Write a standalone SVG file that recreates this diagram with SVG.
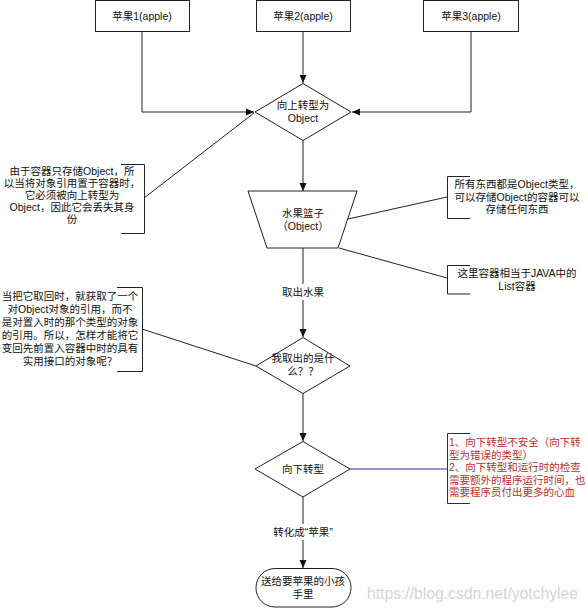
<svg xmlns="http://www.w3.org/2000/svg" width="588" height="611" viewBox="0 0 588 611">
<style>
text{font-family:"Liberation Sans","Noto Sans CJK SC",sans-serif;font-size:10.5px;fill:#111;dominant-baseline:central}
.c{text-anchor:middle}
.box{fill:#fff;stroke:#222;stroke-width:1}
.ln{fill:none;stroke:#222;stroke-width:1}
.br{fill:none;stroke:#222;stroke-width:1}
.red{fill:#c0302c}
.wm{font-family:"Liberation Sans",Arial,sans-serif;font-size:15.7px;fill:#d4d4d4}
</style>
<defs>
<marker id="arr" markerWidth="8" markerHeight="8" refX="8" refY="4" orient="auto" markerUnits="userSpaceOnUse">
<path d="M0,0.5 L8,4 L0,7.5 z" fill="#111"/>
</marker>
</defs>
<rect width="588" height="611" fill="#fff"/>

<g id="connectors">
<path class="ln" d="M142,31 V112 H254" marker-end="url(#arr)"/>
<path class="ln" d="M303,31 V83" marker-end="url(#arr)"/>
<path class="ln" d="M471,31 V112 H352" marker-end="url(#arr)"/>
<path class="ln" d="M303,140 V191" marker-end="url(#arr)"/>
<path class="ln" d="M303,248 V337" marker-end="url(#arr)"/>
<path class="ln" d="M303,393 V441" marker-end="url(#arr)"/>
<path class="ln" d="M303,497 V568" marker-end="url(#arr)"/>
<path class="ln" d="M144,198 L254,113"/>
<path class="ln" d="M447,197 L348,219"/>
<path class="ln" d="M447,278 L339,248"/>
<path class="ln" d="M142,329 L256,366"/>
<path fill="none" stroke="#7070cc" stroke-width="1.3" d="M350,469 H447"/>
<rect x="279" y="284" width="48" height="16" fill="#fff"/>
<text class="c" x="303" y="292">取出水果</text>
<rect x="264" y="524" width="78" height="16" fill="#fff"/>
<text class="c" x="303" y="532">转化成“苹果”</text>
</g>

<g id="apple1">
<rect class="box" x="95.5" y="0.5" width="94" height="31"/>
<text class="c" x="142" y="15.5">苹果1(apple)</text>
</g>
<g id="apple2">
<rect class="box" x="256.5" y="0.5" width="94" height="31"/>
<text class="c" x="303" y="15.5">苹果2(apple)</text>
</g>
<g id="apple3">
<rect class="box" x="423.5" y="0.5" width="95" height="31"/>
<text class="c" x="471" y="15.5">苹果3(apple)</text>
</g>

<g id="upcast">
<path class="box" d="M303,83.5 L351,112 L303,140.5 L255,112 Z"/>
<text class="c" x="303" y="105">向上转型为</text>
<text class="c" x="303" y="118">Object</text>
</g>

<g id="basket">
<path class="box" d="M248,191 H357 L338,248 H267 Z"/>
<text class="c" x="303" y="213">水果篮子</text>
<text class="c" x="303" y="226">（Object）</text>
</g>

<g id="what">
<path class="box" d="M303,337.5 L350,366 L303,393.5 L256,366 Z"/>
<text class="c" x="303" y="358">我取出的是什</text>
<text class="c" x="303" y="371">么？？</text>
</g>

<g id="downcast">
<path class="box" d="M303,441.5 L350,469 L303,497 L255,469 Z"/>
<text class="c" x="303" y="469">向下转型</text>
</g>

<g id="child">
<rect class="box" x="256" y="568.5" width="95" height="38.5" rx="19" ry="19"/>
<text class="c" x="303" y="581">送给要苹果的小孩</text>
<text class="c" x="303" y="594">手里</text>
</g>

<g id="note-upcast">
<path class="br" d="M121,164.5 H144.5 V233.5 H121"/>
<text class="c" x="72" y="171">由于容器只存储Object，所</text>
<text class="c" x="72" y="183">以当将对象引用置于容器时，</text>
<text class="c" x="72" y="195">它必须被向上转型为</text>
<text class="c" x="72" y="207">Object，因此它会丢失其身</text>
<text class="c" x="72" y="219">份</text>
</g>

<g id="note-object">
<path class="br" d="M470,176.5 H447.5 V218.5 H470"/>
<text class="c" x="517" y="184">所有东西都是Object类型，</text>
<text class="c" x="517" y="196.5">可以存储Object的容器可以</text>
<text class="c" x="517" y="209">存储任何东西</text>
</g>

<g id="note-list">
<path class="br" d="M470,265.5 H447.5 V294 H470"/>
<text class="c" x="517" y="273">这里容器相当于JAVA中的</text>
<text class="c" x="517" y="286">List容器</text>
</g>

<g id="note-getback">
<path class="br" d="M117,287.5 H142.5 V371.5 H117"/>
<text class="c" x="70" y="296">当把它取回时，就获取了一个</text>
<text class="c" x="70" y="309">对Object对象的引用，而不</text>
<text class="c" x="70" y="322">是对置入时的那个类型的对象</text>
<text class="c" x="70" y="335">的引用。所以，怎样才能将它</text>
<text class="c" x="70" y="348">变回先前置入容器中时的具有</text>
<text class="c" x="70" y="361">实用接口的对象呢？</text>
</g>

<g id="note-downcast">
<path fill="none" stroke="#1c2a78" stroke-width="1" d="M470,433.5 H447.5 V503.5 H470"/>
<text class="red" x="449" y="442">1、向下转型不安全（向下转</text>
<text class="red" x="449" y="454.5">型为错误的类型）</text>
<text class="red" x="449" y="467">2、向下转型和运行时的检查</text>
<text class="red" x="449" y="479.5">需要额外的程序运行时间，也</text>
<text class="red" x="449" y="492">需要程序员付出更多的心血</text>
</g>

<text class="wm" x="367" y="593">https://blog.csdn.net/yotchylee</text>
</svg>
